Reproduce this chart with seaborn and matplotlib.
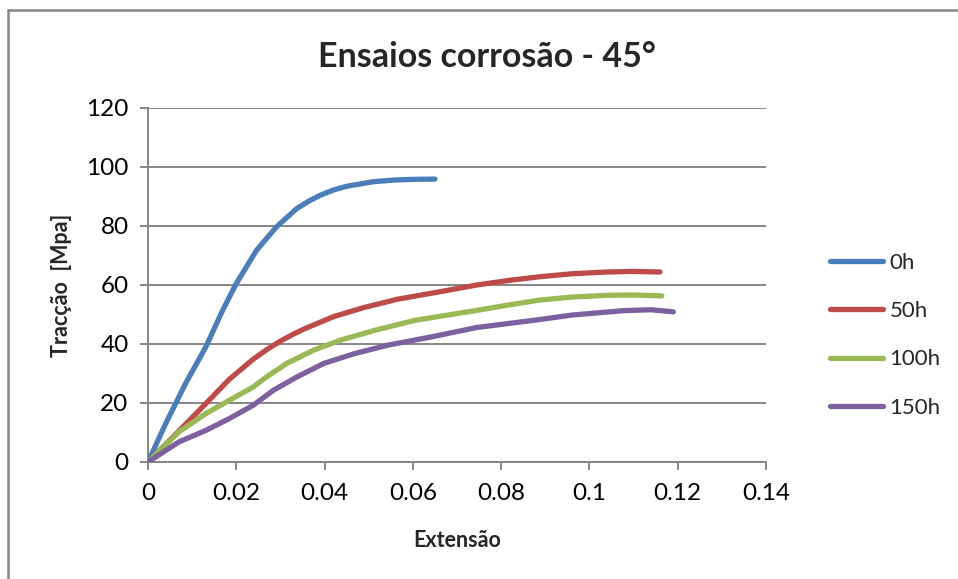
import numpy as np
import pandas as pd
import matplotlib
matplotlib.use("Agg")
import matplotlib.pyplot as plt
import seaborn as sns

# Strain (extensão) / stress (tracção) curves for each corrosion time
ext_0h = [0.0, 0.0040, 0.0085, 0.0131, 0.0169, 0.0200, 0.0246, 0.0291, 0.0337,
          0.0365, 0.0390, 0.0420, 0.0451, 0.0510, 0.0560, 0.0600, 0.0650]
tr_0h = [0.0, 13.0, 26.6, 39.0, 51.4, 60.5, 71.8, 79.7, 85.9,
         88.5, 90.4, 92.2, 93.5, 95.0, 95.6, 95.8, 95.9]

ext_50h = [0.0, 0.0070, 0.0131, 0.0184, 0.0238, 0.0270, 0.0299, 0.0330, 0.0360,
           0.0421, 0.0490, 0.0566, 0.0657, 0.0745, 0.0820, 0.0888, 0.0960, 0.1039,
           0.1100, 0.1160]
tr_50h = [0.0, 10.5, 19.8, 28.0, 34.8, 38.2, 40.9, 43.4, 45.5,
          49.3, 52.4, 55.2, 57.6, 60.0, 61.6, 62.8, 63.8, 64.4,
          64.6, 64.4]

ext_100h = [0.0, 0.0070, 0.0131, 0.0184, 0.0238, 0.0268, 0.0314, 0.0375, 0.0436,
            0.0513, 0.0604, 0.0745, 0.0820, 0.0888, 0.0960, 0.1039, 0.1100, 0.1164]
tr_100h = [0.0, 10.2, 16.4, 20.9, 25.4, 28.8, 33.4, 37.9, 41.3,
           44.6, 48.0, 51.4, 53.3, 54.9, 55.9, 56.5, 56.6, 56.3]

ext_150h = [0.0, 0.0070, 0.0131, 0.0184, 0.0238, 0.0284, 0.0337, 0.0398, 0.0467,
            0.0543, 0.0642, 0.0745, 0.0820, 0.0888, 0.0960, 0.1077, 0.1140, 0.1190]
tr_150h = [0.0, 6.8, 10.7, 14.7, 19.2, 24.3, 28.8, 33.4, 36.7,
           39.6, 42.4, 45.6, 47.0, 48.3, 49.8, 51.3, 51.6, 50.9]

series_names = ["0h", "50h", "100h", "150h"]
series_colors = ["#4A7EBB", "#BE4B48", "#98B954", "#7D60A0"]

x_ticks = [0, 0.02, 0.04, 0.06, 0.08, 0.1, 0.12, 0.14]
x_tick_labels = ["0", "0.02", "0.04", "0.06", "0.08", "0.1", "0.12", "0.14"]
y_ticks = [0, 20, 40, 60, 80, 100, 120]

frames = []
for name, xs, ys in zip(series_names,
                        [ext_0h, ext_50h, ext_100h, ext_150h],
                        [tr_0h, tr_50h, tr_100h, tr_150h]):
    frames.append(pd.DataFrame({"Extensão": xs, "Tracção": ys, "Série": name}))
df = pd.concat(frames, ignore_index=True)

sns.set_theme(style="white")
plt.rcParams["font.family"] = ["Lato", "DejaVu Sans"]

fig = plt.figure(figsize=(9.58, 5.79), dpi=100)
ax = fig.add_axes([0.1545, 0.2021, 0.7996 - 0.1545, 0.8135 - 0.2021])

grid_col = "#868686"
sns.lineplot(data=df, x="Extensão", y="Tracção", hue="Série",
             hue_order=series_names, palette=series_colors,
             sort=False, estimator=None, units="Série",
             linewidth=3.8, ax=ax, legend=False,
             solid_capstyle="round", solid_joinstyle="round", zorder=3)

ax.set_xlim(0, 0.14)
ax.set_ylim(0, 120)
ax.set_xticks(x_ticks)
ax.set_xticklabels(x_tick_labels)
ax.set_yticks(y_ticks)
ax.yaxis.grid(True, color=grid_col, linewidth=1.4)
ax.xaxis.grid(False)
ax.set_axisbelow(True)

for side in ["top", "right"]:
    ax.spines[side].set_visible(False)
for side in ["left", "bottom"]:
    ax.spines[side].set_color(grid_col)
    ax.spines[side].set_linewidth(1.4)

ax.tick_params(axis="both", which="major", direction="out", length=6,
               width=1.4, color=grid_col, labelsize=17.5, labelcolor="black",
               bottom=True, left=True)
ax.tick_params(axis="x", pad=9)
ax.tick_params(axis="y", pad=8)

ax.set_xlabel("Extensão", fontsize=15.5, fontweight="bold", labelpad=19)
ax.set_ylabel("Tracção  [Mpa]", fontsize=15.5, fontweight="bold", labelpad=10)

fig.text(0.508, 0.901, "Ensaios corrosão - 45°", fontsize=24.5, fontweight="bold",
         ha="center", va="center")

handles = [plt.Line2D([], [], color=c, linewidth=3.8, solid_capstyle="round")
           for c in series_colors]
fig.legend(handles, series_names, loc="center left",
           bbox_to_anchor=(0.866, 0.421), frameon=False, fontsize=16,
           handlelength=2.4, handletextpad=0.3, labelspacing=1.28,
           borderaxespad=0.0, borderpad=0.0)

# outer chart frame
fig.add_artist(plt.Line2D([0.0084, 0.0084], [0.0, 0.983], color=grid_col,
                          linewidth=1.8, transform=fig.transFigure))
fig.add_artist(plt.Line2D([0.0084, 1.0], [0.983, 0.983], color=grid_col,
                          linewidth=1.8, transform=fig.transFigure))

fig.savefig("out.png", dpi=100)
